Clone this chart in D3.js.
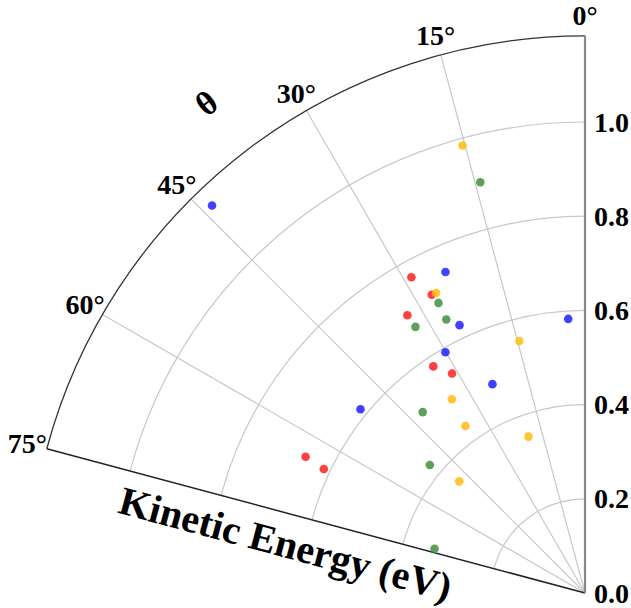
<!DOCTYPE html>
<html>
<head>
<meta charset="utf-8">
<script src="https://cdn.jsdelivr.net/npm/d3@7"></script>
<style>
  html, body { margin: 0; padding: 0; background: #fff; }
  svg text { font-family: "Liberation Serif", "Times New Roman", serif; font-weight: bold; fill: #000; }
</style>
</head>
<body>
<div id="chart"></div>
<script>
// angle (deg from vertical) and kinetic energy (eV) for each series
let redTheta = [28.8, 27.2, 32.6, 33.8, 31.2, 64.0, 64.6];
let redEnergy = [0.765, 0.712, 0.700, 0.579, 0.545, 0.660, 0.614];

let blueTheta = [23.5, 25.1, 30.1, 23.9, 50.7, 3.5, 43.9];
let blueEnergy = [0.743, 0.628, 0.591, 0.485, 0.616, 0.583, 1.142];

let greenTheta = [26.8, 26.9, 32.5, 41.9, 50.5, 73.6, 14.3];
let greenEnergy = [0.690, 0.651, 0.670, 0.516, 0.427, 0.333, 0.900];

let yellowTheta = [26.4, 14.6, 34.5, 35.6, 19.9, 48.4, 15.3];
let yellowEnergy = [0.711, 0.553, 0.499, 0.436, 0.353, 0.357, 0.985];

let radialTicks = [0.0, 0.2, 0.4, 0.6, 0.8, 1.0];
let angleTicks = [0, 15, 30, 45, 60, 75];

let series = [
	{ name: "red", color: "#ff1f1f", theta: redTheta, energy: redEnergy },
	{ name: "blue", color: "#1f1fff", theta: blueTheta, energy: blueEnergy },
	{ name: "green", color: "#3f8f3f", theta: greenTheta, energy: greenEnergy },
	{ name: "yellow", color: "#ffbb10", theta: yellowTheta, energy: yellowEnergy }
];

let width = 631;
let height = 608;
let cx = 585;
let cy = 593;
let rMax = 1.183;
let thetaMax = 75;

let r = d3.scaleLinear().domain([0, 1]).range([0, 471]);
let ang = d3.scaleLinear().domain([0, 360]).range([0, 2 * Math.PI]);

function px(t, e) { return cx - r(e) * Math.sin(ang(t)); }
function py(t, e) { return cy - r(e) * Math.cos(ang(t)); }

let svg = d3.select('#chart')
	.append('svg')
	.attr('width', width)
	.attr('height', height);

let g = svg.append('g');

function arcPath(e) {
	let p = d3.path();
	p.moveTo(cx, cy - r(e));
	p.arc(cx, cy, r(e), -Math.PI / 2, -Math.PI / 2 - ang(thetaMax), true);
	return p.toString();
}

// radial grid arcs
g.selectAll('path.rgrid')
	.data(radialTicks.filter(d => d > 0))
	.enter()
	.append('path')
	.attr('class', 'rgrid')
	.attr('d', d => arcPath(d))
	.attr('fill', 'none')
	.attr('stroke', '#c8c8c8')
	.attr('stroke-width', 1.2);

// angular grid lines
g.selectAll('line.agrid')
	.data(angleTicks.filter(d => d > 0 && d < thetaMax))
	.enter()
	.append('line')
	.attr('class', 'agrid')
	.attr('x1', cx)
	.attr('y1', cy)
	.attr('x2', d => px(d, rMax))
	.attr('y2', d => py(d, rMax))
	.attr('stroke', '#c8c8c8')
	.attr('stroke-width', 1.2);

// outer arc
g.append('path')
	.attr('d', arcPath(rMax))
	.attr('fill', 'none')
	.attr('stroke', '#333')
	.attr('stroke-width', 1.3);

// 75 deg edge
g.append('line')
	.attr('x1', cx).attr('y1', cy)
	.attr('x2', px(thetaMax, rMax)).attr('y2', py(thetaMax, rMax))
	.attr('stroke', '#222')
	.attr('stroke-width', 1.5);

// 0 deg edge (radial axis)
g.append('line')
	.attr('x1', cx).attr('y1', cy)
	.attr('x2', px(0, rMax)).attr('y2', py(0, rMax))
	.attr('stroke', '#888')
	.attr('stroke-width', 2.2);

// radial tick labels
g.selectAll('text.rtick')
	.data(radialTicks)
	.enter()
	.append('text')
	.attr('class', 'rtick')
	.attr('x', cx + 9)
	.attr('y', d => cy - r(d))
	.attr('dominant-baseline', 'central')
	.style('font-size', '28px')
	.text(d => d.toFixed(1));

// angle labels
g.selectAll('text.atick')
	.data(angleTicks)
	.enter()
	.append('text')
	.attr('class', 'atick')
	.attr('x', d => cx - (r(rMax) + 20) * Math.sin(ang(d)))
	.attr('y', d => cy - (r(rMax) + 20) * Math.cos(ang(d)))
	.attr('text-anchor', 'middle')
	.attr('dominant-baseline', 'central')
	.style('font-size', '28px')
	.text(d => d + '°');

// theta label
let thLx = cx - 619 * Math.sin(ang(37.7));
let thLy = cy - 619 * Math.cos(ang(37.7));
g.append('text')
	.attr('transform', `translate(${thLx},${thLy}) rotate(-37.7)`)
	.attr('text-anchor', 'middle')
	.attr('dominant-baseline', 'central')
	.style('font-size', '34px')
	.text('θ');

// radial axis label along the 75 deg edge
let along = 302;
let off = 30;
let ux = -Math.sin(ang(thetaMax)), uy = -Math.cos(ang(thetaMax));
let nx = -uy, ny = -ux;
g.append('text')
	.attr('transform', `translate(${cx + along * ux - off * nx},${cy + along * uy + off * ny}) rotate(15)`)
	.attr('text-anchor', 'middle')
	.attr('dominant-baseline', 'central')
	.style('font-size', '40px')
	.text('Kinetic Energy (eV)');

// points
series.forEach(s => {
	g.selectAll('circle.' + s.name)
		.data(s.theta.map((t, i) => ({ t: t, e: s.energy[i] })))
		.enter()
		.append('circle')
		.attr('class', s.name)
		.attr('cx', d => px(d.t, d.e))
		.attr('cy', d => py(d.t, d.e))
		.attr('r', 4.3)
		.attr('fill', s.color)
		.attr('fill-opacity', 0.85);
});
</script>
</body>
</html>
